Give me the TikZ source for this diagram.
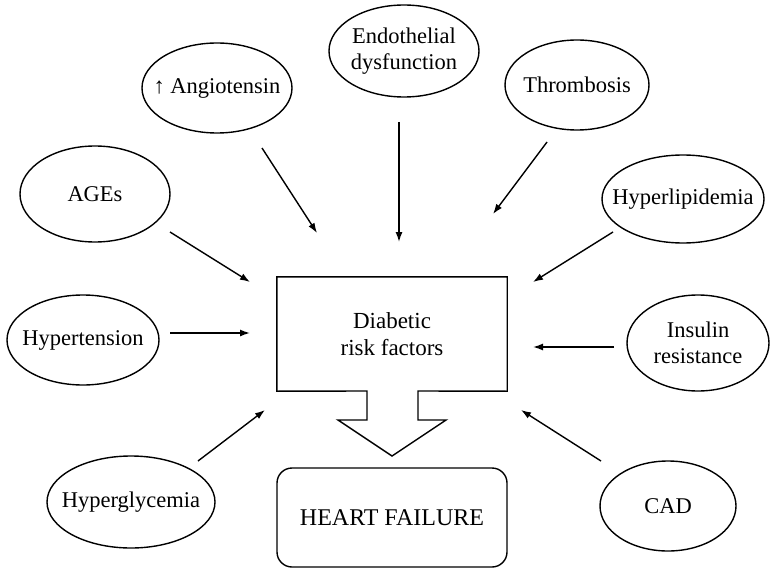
\documentclass[tikz,border=0pt]{standalone}
\usepackage{fontspec}
\setmainfont{Liberation Serif}
\usetikzlibrary{arrows.meta}
\begin{document}
\begin{tikzpicture}[x=1pt,y=-1pt,
  label/.style={inner sep=0pt, align=center, font=\fontsize{22.5}{26.5}\selectfont},
  outline/.style={line width=1.4pt, line join=miter},
  link/.style={line width=1.4pt, -{Latex[length=10pt,width=7pt]}}]
\useasboundingbox (0,0) rectangle (770,572);

% risk factors around the centre: name / centre / radii / text
\foreach \n/\x/\y/\rx/\ry/\t in {
    ang/217/88/75/45/{↑ Angiotensin},
    endo/404/51/75/46/{Endothelial\\dysfunction},
    thr/577/85/72/45/{Thrombosis},
    ages/95/194/75/48/{AGEs},
    hlip/683/199/81/44/{Hyperlipidemia},
    htn/83/340/76/45/{Hypertension},
    ins/698/343/71/48/{Insulin\\resistance},
    hgly/131/502/84/46/{Hyperglycemia},
    cad/668/506/68/45/{CAD}} {
  \node[label] (\n) at (\x,\y) {\t};
  \draw[outline] (\n.center) ellipse [x radius=\rx, y radius=\ry];
}

% central box with its downward block arrow
\node[label, font=\fontsize{23}{27}\selectfont, minimum width=230pt,
      minimum height=114pt] (drf) at (392,334) {Diabetic\\risk factors};
\draw[outline] (drf.north west) -- (drf.north east) -- (drf.south east)
  -- (418,391) -- (418,420) -- (446,420) -- (392,456) -- (338,420)
  -- (367,420) -- (367,391) -- (drf.south west) -- cycle;

% outcome
\node[label, font=\fontsize{24}{28}\selectfont, draw, line width=1.4pt,
      rounded corners=15pt, minimum width=230pt, minimum height=99pt]
      (hf) at (392,517.5) {HEART FAILURE};

% arrow end points
\coordinate (angA)  at (262,148); \coordinate (angB)  at (317,233);
\coordinate (endoA) at (399,122); \coordinate (endoB) at (399,242);
\coordinate (thrA)  at (547,142); \coordinate (thrB)  at (493,214);
\coordinate (hlipA) at (613,232); \coordinate (hlipB) at (533,282);
\coordinate (agesA) at (170,232); \coordinate (agesB) at (250,282);
\coordinate (htnA)  at (170,333); \coordinate (htnB)  at (250,333);
\coordinate (insA)  at (614,347); \coordinate (insB)  at (533,347);
\coordinate (hglyA) at (198,461); \coordinate (hglyB) at (265,410);
\coordinate (cadA)  at (601,461); \coordinate (cadB)  at (521,410);

\foreach \f in {ang,endo,thr,hlip,ages,htn,ins,hgly,cad}
  \draw[link] (\f A) -- (\f B);
\end{tikzpicture}
\end{document}
